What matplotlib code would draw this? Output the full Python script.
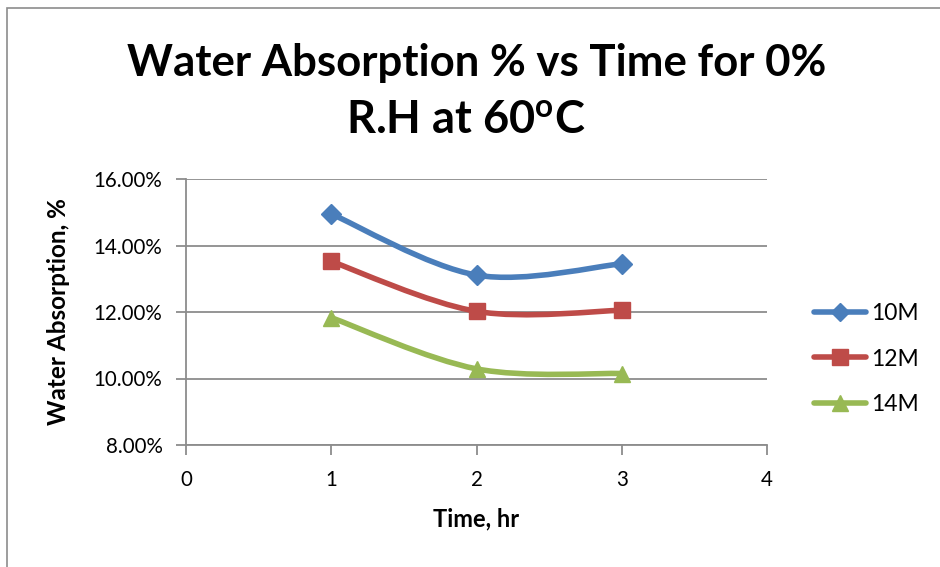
import numpy as np
import matplotlib
matplotlib.use("Agg")
import matplotlib.pyplot as plt
from matplotlib.path import Path
from matplotlib.patches import PathPatch, Rectangle
from matplotlib.lines import Line2D

plt.rcParams['font.family'] = ['Lato', 'DejaVu Sans']

time_hr = [1, 2, 3]
series = ["10M", "12M", "14M"]
absorption = {
    "10M": [14.95, 13.11, 13.45],
    "12M": [13.52, 12.02, 12.05],
    "14M": [11.83, 10.29, 10.15],
}
colors = {"10M": "#4a7ebb", "12M": "#be4b48", "14M": "#98b954"}
markers = {"10M": "D", "12M": "s", "14M": "^"}
msizes = {"10M": 10, "12M": 12, "14M": 12}
yticks = [8, 10, 12, 14, 16]
xticks = [0, 1, 2, 3, 4]


def smooth_path(x, y):
    # Catmull-Rom style cubic Bezier through the points (spreadsheet "smoothed line")
    pts = np.column_stack([x, y]).astype(float)
    ext = np.vstack([pts[0], pts, pts[-1]])
    verts = [pts[0]]
    codes = [Path.MOVETO]
    for i in range(1, len(ext) - 2):
        p0, p1, p2, p3 = ext[i - 1], ext[i], ext[i + 1], ext[i + 2]
        verts += [p1 + (p2 - p0) / 6, p2 - (p3 - p1) / 6, p2]
        codes += [Path.CURVE4] * 3
    return Path(verts, codes)


fig = plt.figure(figsize=(9.4, 5.67), dpi=100)
ax = fig.add_axes([186 / 940, 1 - 445 / 567, (767 - 186) / 940, (445 - 179) / 567])

for name in series:
    c = colors[name]
    ax.add_patch(PathPatch(smooth_path(time_hr, absorption[name]), facecolor="none",
                           edgecolor=c, lw=4, capstyle="round", joinstyle="round", zorder=3))
    ax.plot(time_hr, absorption[name], linestyle="none", marker=markers[name],
            ms=msizes[name], color=c, mec=c, zorder=4)

ax.set_xlim(0, 4)
ax.set_ylim(8, 16)
ax.set_xticks(xticks)
ax.set_yticks(yticks)
ax.set_yticklabels([f"{v:.2f}%" for v in yticks])
ax.grid(axis="y", color="#8c8c8c", lw=1.3)
ax.set_axisbelow(True)
for s in ["top", "right"]:
    ax.spines[s].set_visible(False)
for s in ["left", "bottom"]:
    ax.spines[s].set_color("#8c8c8c")
    ax.spines[s].set_linewidth(1.3)
ax.tick_params(colors="#8c8c8c", labelcolor="black", labelsize=14.8, length=7, width=1.3)
ax.tick_params(axis="x", pad=11)
ax.tick_params(axis="y", pad=10)

ax.set_xlabel("Time, hr", fontsize=17, fontweight="bold")
ax.xaxis.set_label_coords(0.5, -0.235)
ax.set_ylabel("Water Absorption, %", fontsize=17.5, fontweight="bold")
ax.yaxis.set_label_coords(-0.2, 0.5)

fig.text(477 / 940, 1 - 63 / 567, "Water Absorption % vs Time for 0%", ha="center", va="center",
         fontsize=31.5, fontweight="bold")
fig.text(466 / 940, 1 - 121 / 567, r"R.H at 60$^{\mathregular{o}}$C", ha="center", va="center",
         fontsize=32.5, fontweight="bold")

handles = [Line2D([], [], color=colors[n], lw=4, marker=markers[n], ms=msizes[n] - 1,
                  mec=colors[n], solid_capstyle="round") for n in series]
fig.legend(handles, series, loc="center left", bbox_to_anchor=(793 / 940, 1 - 359 / 567),
           frameon=False, fontsize=16.5, handlelength=2.3, handletextpad=0.2,
           labelspacing=1.05)

# chart border
fig.patches.append(Rectangle((7 / 940, -0.1), 1.2, 1 - 8 / 567 + 0.1, transform=fig.transFigure,
                             fill=False, edgecolor="#8c8c8c", lw=1.2))

fig.savefig("out.png", dpi=100)
